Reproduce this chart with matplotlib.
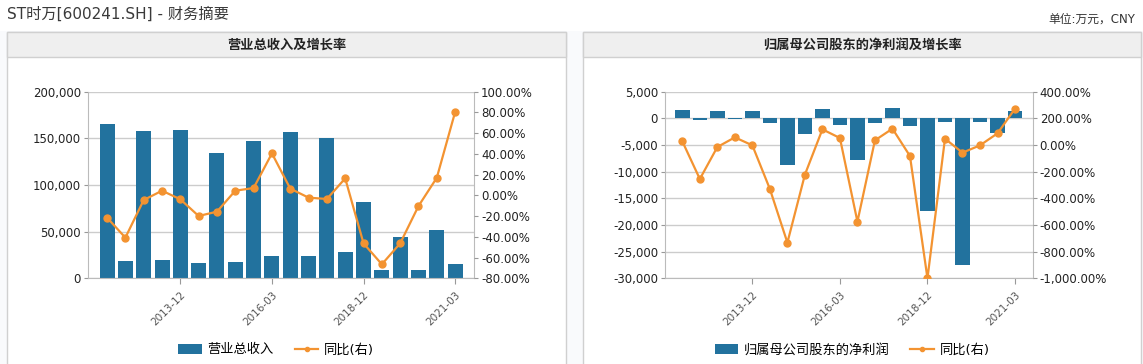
import matplotlib
matplotlib.use("Agg")
import matplotlib.pyplot as plt
from matplotlib.patches import Rectangle, Patch
from matplotlib.lines import Line2D
from matplotlib.ticker import FuncFormatter, FixedLocator

plt.rcParams['font.family'] = ['DejaVu Sans', 'Noto Sans CJK SC']

# report periods (annual -12 and Q1 -03 alternate)
periods = ['2011-12', '2012-03', '2012-12', '2013-03', '2013-12', '2014-03',
           '2014-12', '2015-03', '2015-12', '2016-03', '2016-12', '2017-03',
           '2017-12', '2018-03', '2018-12', '2019-03', '2019-12', '2020-03',
           '2020-12', '2021-03']
shown_ticks = ['2013-12', '2016-03', '2018-12', '2021-03']

# 营业总收入 (万元) and yoy %
revenue = [165400, 18600, 157900, 19600, 158900, 16400, 134300, 17500,
           147100, 23900, 156800, 23900, 150000, 28200, 81800, 8900,
           44300, 8900, 51800, 15400]
revenue_yoy = [-21.5, -40.8, -4.5, 4.5, -3.8, -19.9, -15.7, 4.5, 7.1, 40.5,
               6.5, -2.2, -3.5, 16.4, -46.3, -66.5, -46.3, -10.3, 17.0, 80.4]

# 归属母公司股东的净利润 (万元) and yoy %
profit = [1560, -310, 1375, -100, 1375, -810, -8690, -2875, 1750, -1190,
          -7750, -810, 1940, -1375, -17300, -625, -27560, -625, -2690, 1375]
profit_yoy = [27.5, -255, -15, 57.5, -2.5, -330, -732.5, -222.5, 117.5, 52.5,
              -575, 35, 122.5, -82.5, -1000, 47.5, -57.5, -2.5, 87.5, 272.5]

W, H = 1143, 364
BAR = '#22729e'
LINE = '#f39331'

fig = plt.figure(figsize=(W / 100, H / 100), dpi=100, facecolor='#f9fafc')


def box(x0, y0, x1, y1, **kw):
    # rectangle given in pixel coords (y from top)
    fig.patches.append(Rectangle((x0 / W, 1 - y1 / H), (x1 - x0) / W, (y1 - y0) / H,
                                 transform=fig.transFigure, zorder=-5, **kw))


# page title strip
box(0, 0, W, 31, facecolor='white', edgecolor='none')
fig.text(7 / W, 1 - 14 / H, 'ST时万[600241.SH] - 财务摘要', fontsize=11,
         color='#3a3a3a', va='center', ha='left')
fig.text(1135 / W, 1 - 19 / H, '单位:万元，CNY', fontsize=8.5,
         color='#333333', va='center', ha='right')


def panel(x0, x1, title):
    box(x0, 32, x1, H + 2, facecolor='white', edgecolor='#d0d0d0', lw=1)
    box(x0, 32, x1, 57, facecolor='#efefef', edgecolor='#d0d0d0', lw=1)
    fig.text((x0 + x1) / 2 / W, 1 - 45 / H, title, fontsize=9.5, color='#222222',
             ha='center', va='center', fontweight='bold')


panel(7, 566, '营业总收入及增长率')
panel(583, 1141, '归属母公司股东的净利润及增长率')


def draw(ax_px, bars, yoy, ylim, yticks, rlim, rticks, xlim, bar_label, leg_x):
    x0, x1 = ax_px
    ax = fig.add_axes([x0 / W, 1 - 278.3 / H, (x1 - x0) / W, 186.6 / H])
    ax.set_facecolor('none')
    xs = list(range(len(periods)))
    ax.bar(xs, bars, width=0.82, color=BAR, zorder=2)
    ax.set_xlim(*xlim)
    ax.set_ylim(*ylim)
    ax.set_yticks(yticks)
    ax.yaxis.set_major_formatter(FuncFormatter(lambda v, p: f'{v:,.0f}'))
    ax.grid(axis='y', color='#cccccc', lw=1, zorder=0)
    ax.set_axisbelow(True)
    ticks = [periods.index(t) for t in shown_ticks]
    ax.xaxis.set_major_locator(FixedLocator(ticks))
    ax.set_xticklabels(shown_ticks, rotation=45, ha='right', rotation_mode='anchor',
                       fontsize=7.5, color='#555555')
    ax.tick_params(axis='x', length=4, color='#999999', pad=4)
    ax.tick_params(axis='y', length=3, color='#999999', labelsize=8.5,
                   labelcolor='#222222', pad=2)
    for s in ['left', 'bottom', 'right']:
        ax.spines[s].set_color('#bbbbbb')
    ax.spines['top'].set_visible(False)

    ax2 = ax.twinx()
    ax2.plot(xs, yoy, color=LINE, lw=1.6, marker='o', ms=5, zorder=3)
    ax2.set_ylim(*rlim)
    ax2.set_yticks(rticks)
    ax2.yaxis.set_major_formatter(FuncFormatter(lambda v, p: f'{v:,.2f}%'))
    ax2.tick_params(axis='y', length=3, color='#999999', labelsize=8.5,
                    labelcolor='#222222', pad=2)
    for s in ['left', 'bottom', 'right', 'top']:
        ax2.spines[s].set_visible(False)

    handles = [Patch(facecolor=BAR, edgecolor='none'),
               Line2D([0], [0], color=LINE, lw=1.6, marker='o', ms=3)]
    fig.legend(handles, [bar_label, '同比(右)'], loc='center',
               bbox_to_anchor=(leg_x / W, 1 - 350 / H), ncol=2, frameon=False,
               fontsize=9.5, handlelength=1.8, handleheight=0.8,
               columnspacing=1.6, handletextpad=0.4)


draw((88, 474), revenue, revenue_yoy, (0, 200000), range(0, 200001, 50000),
     (-80, 100), range(-80, 101, 20), (-1.04, 20.03), '营业总收入', 276)
draw((665, 1032.7), profit, profit_yoy, (-30000, 5000), range(-30000, 5001, 5000),
     (-1000, 400), range(-1000, 401, 200), (-0.99, 20.01), '归属母公司股东的净利润', 852)

fig.savefig('out.png', dpi=100, facecolor=fig.get_facecolor())
